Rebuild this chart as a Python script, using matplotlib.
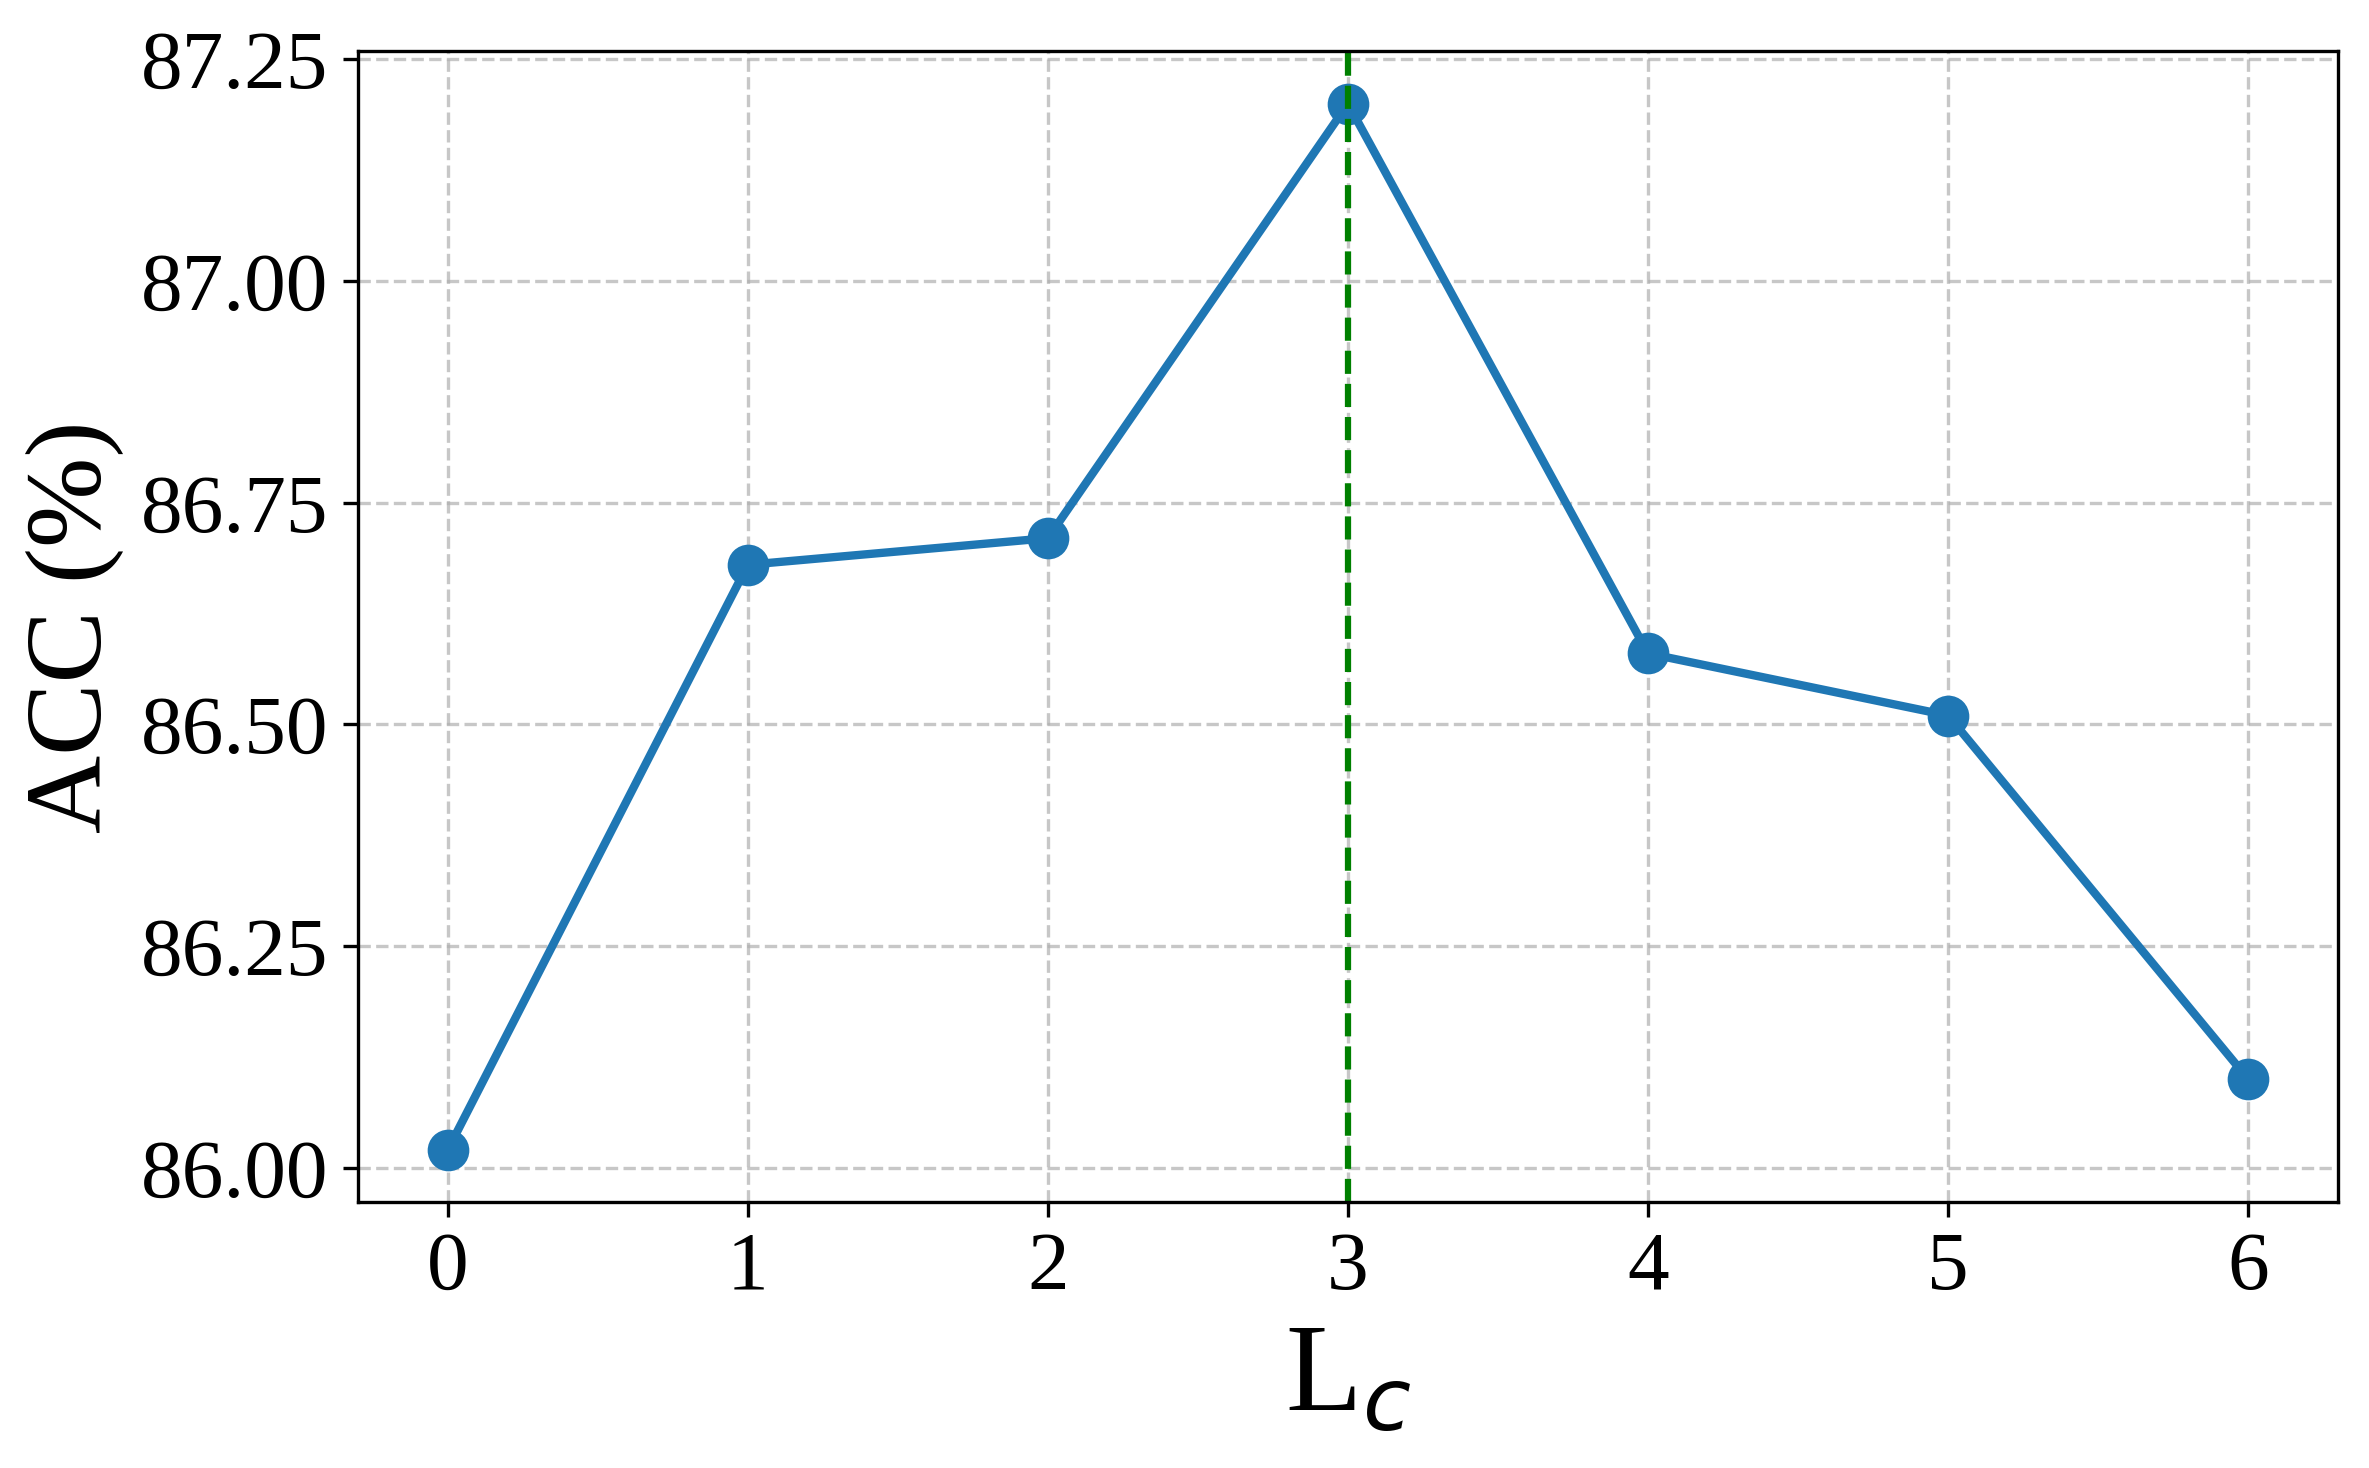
import matplotlib
matplotlib.use("Agg")
from matplotlib import pyplot as plt

# data
layers = [0, 1, 2, 3, 4, 5, 6]
acc = [86.02, 86.68, 86.71, 87.20, 86.58, 86.51, 86.10]
best_layer = 3
y_ticks = [86.00, 86.25, 86.50, 86.75, 87.00, 87.25]

plt.rcParams['font.family'] = 'serif'
plt.rcParams['font.serif'] = ['Liberation Serif', 'TeX Gyre Termes', 'DejaVu Serif']
plt.rcParams['mathtext.fontset'] = 'dejavusans'

fig = plt.figure(figsize=(2369 / 300, 1468 / 300), dpi=300)
fig.subplots_adjust(left=0.151, right=0.987, top=0.965, bottom=0.181)
ax = fig.add_subplot(111)

ax.plot(layers, acc, marker='o', color='#1f77b4', linewidth=2, markersize=9)
ax.axvline(best_layer, color='green', linestyle='--', linewidth=1.5)

ax.set_xticks(layers)
ax.set_yticks(y_ticks)
ax.set_yticklabels(['%.2f' % v for v in y_ticks])
ax.tick_params(axis='both', labelsize=20)
ax.grid(True, linestyle='--', alpha=0.7)

ax.set_xlabel(r'L$_c$', fontsize=30)
ax.set_ylabel('ACC (%)', fontsize=26)

fig.savefig('out.png', dpi=300)
